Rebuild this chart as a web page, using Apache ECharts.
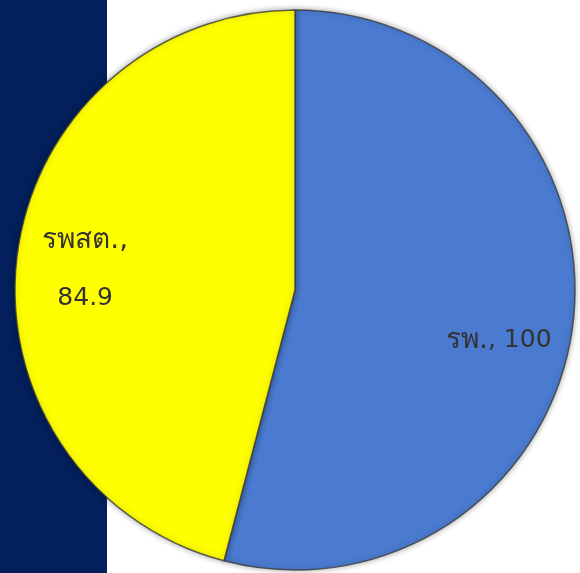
<!DOCTYPE html>
<html><head><meta charset="utf-8">
<script src="https://cdn.jsdelivr.net/npm/echarts@6/dist/echarts.min.js"></script>
<style>html,body{margin:0;padding:0;background:#fff}#c{width:580px;height:573px}</style>
</head><body><div id="c"></div>
<script>
const categories = ['รพ.', 'รพสต.'];
const values = [100, 84.9];
const colors = ['#4A7BD0', '#FFFF00'];

const chart = echarts.init(document.getElementById('c'), null, {renderer: 'canvas'});
const font = 'Tahoma, "DejaVu Sans", sans-serif';
chart.setOption({
  animation: false,
  graphic: [{type: 'rect', left: 0, top: 0, shape: {width: 107, height: 573}, style: {fill: '#03205C'}, z: -10}],
  series: [{
    type: 'pie',
    center: [295, 290],
    radius: 280,
    startAngle: 90,
    clockwise: true,
    data: categories.map((c, i) => ({
      name: c, value: values[i],
      itemStyle: {color: colors[i]},
      label: i === 0 ? {formatter: '{t|{b}}, {c}'} : {formatter: '{t|{b},}\n{c}', lineHeight: 57}
    })),
    itemStyle: {borderColor: 'rgba(60,60,60,0.8)', borderWidth: 1.5, shadowColor: 'rgba(0,0,0,0.35)', shadowBlur: 6},
    label: {position: 'inside', color: '#333', fontSize: 25, fontFamily: font, align: 'center',
      rich: {t: {fontSize: 28, color: '#333', fontFamily: font}}},
    labelLayout: function (p) {
      return p.dataIndex === 0 ? {dx: 62, dy: 32} : {dx: -68, dy: -2};
    },
    labelLine: {show: false}
  }]
});
</script></body></html>
